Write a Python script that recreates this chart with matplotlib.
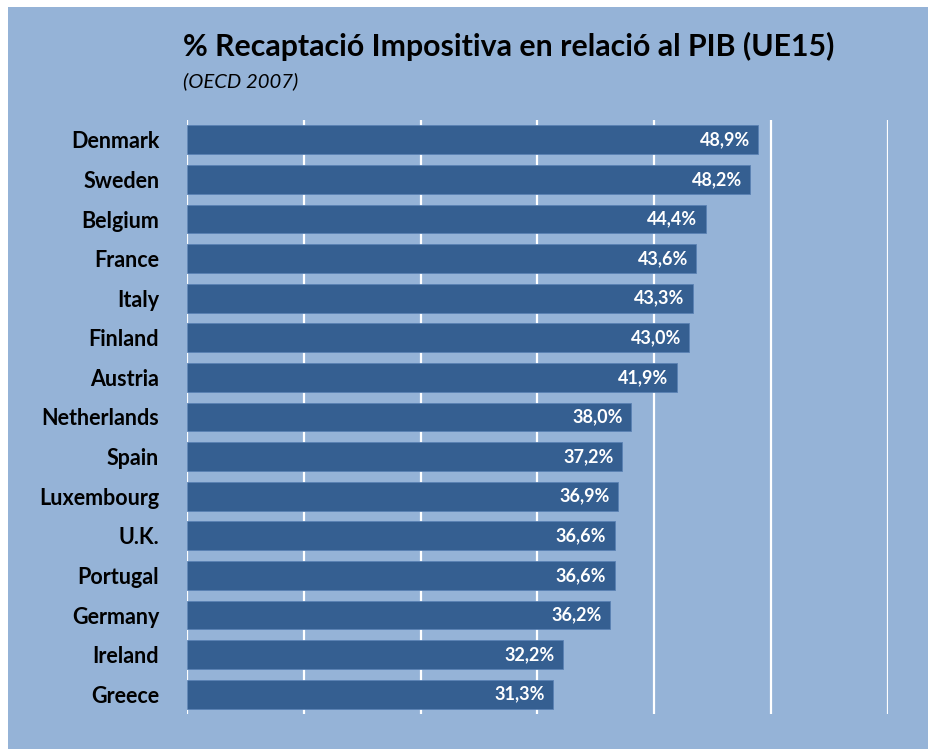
import matplotlib
matplotlib.use("Agg")
import matplotlib.pyplot as plt
from matplotlib.patches import Rectangle

countries = ["Denmark", "Sweden", "Belgium", "France", "Italy", "Finland", "Austria",
             "Netherlands", "Spain", "Luxembourg", "U.K.", "Portugal", "Germany",
             "Ireland", "Greece"]
values = [48.9, 48.2, 44.4, 43.6, 43.3, 43.0, 41.9, 38.0, 37.2, 36.9, 36.6, 36.6, 36.2, 32.2, 31.3]
labels = ["48,9%", "48,2%", "44,4%", "43,6%", "43,3%", "43,0%", "41,9%", "38,0%", "37,2%",
          "36,9%", "36,6%", "36,6%", "36,2%", "32,2%", "31,3%"]

BG = "#95b3d7"
BAR = "#355f91"
FONT = ["Lato", "DejaVu Sans"]

fig = plt.figure(figsize=(9.29, 7.49), dpi=100)
fig.patch.set_facecolor("white")
fig.patches.append(Rectangle((8 / 929, 0), 1 - 8 / 929, 1 - 7 / 749, transform=fig.transFigure,
                             facecolor=BG, edgecolor="none", zorder=-10))

ax = fig.add_axes([187 / 929, 1 - 714 / 749, (888 - 187) / 929, (714 - 120) / 749])
ax.set_facecolor("none")
y = list(range(len(countries)))
ax.barh(y, values, height=0.73, color=BAR, edgecolor="#5a82b4", linewidth=0.6, zorder=3)
ax.set_xlim(0, 60)
ax.set_ylim(len(countries) - 0.5, -0.5)
ax.set_xticks(range(0, 61, 10))
ax.grid(axis="x", color="white", linewidth=1.6, zorder=0)
ax.tick_params(axis="x", length=0, labelbottom=False)
ax.tick_params(axis="y", length=0, pad=27)
for s in ax.spines.values():
    s.set_visible(False)
ax.set_yticks(y)
ax.set_yticklabels(countries, fontsize=15.5, fontweight="bold", family=FONT, color="black")
ax.tick_params(axis="y", pad=20)

for yi, v, lab in zip(y, values, labels):
    ax.text(v - 0.7, yi, lab, ha="right", va="center", color="white", fontsize=13,
            fontweight="bold", family=FONT, zorder=4)

fig.text(183 / 929, 1 - 46 / 749, "% Recaptació Impositiva en relació al PIB (UE15)",
         ha="left", va="center", fontsize=21.8, fontweight="bold", family=FONT, color="black")
fig.text(183 / 929, 1 - 81 / 749, "(OECD 2007)", ha="left", va="center", fontsize=14.6,
         style="italic", family=FONT, color="black")

fig.savefig("out.png", dpi=100)
